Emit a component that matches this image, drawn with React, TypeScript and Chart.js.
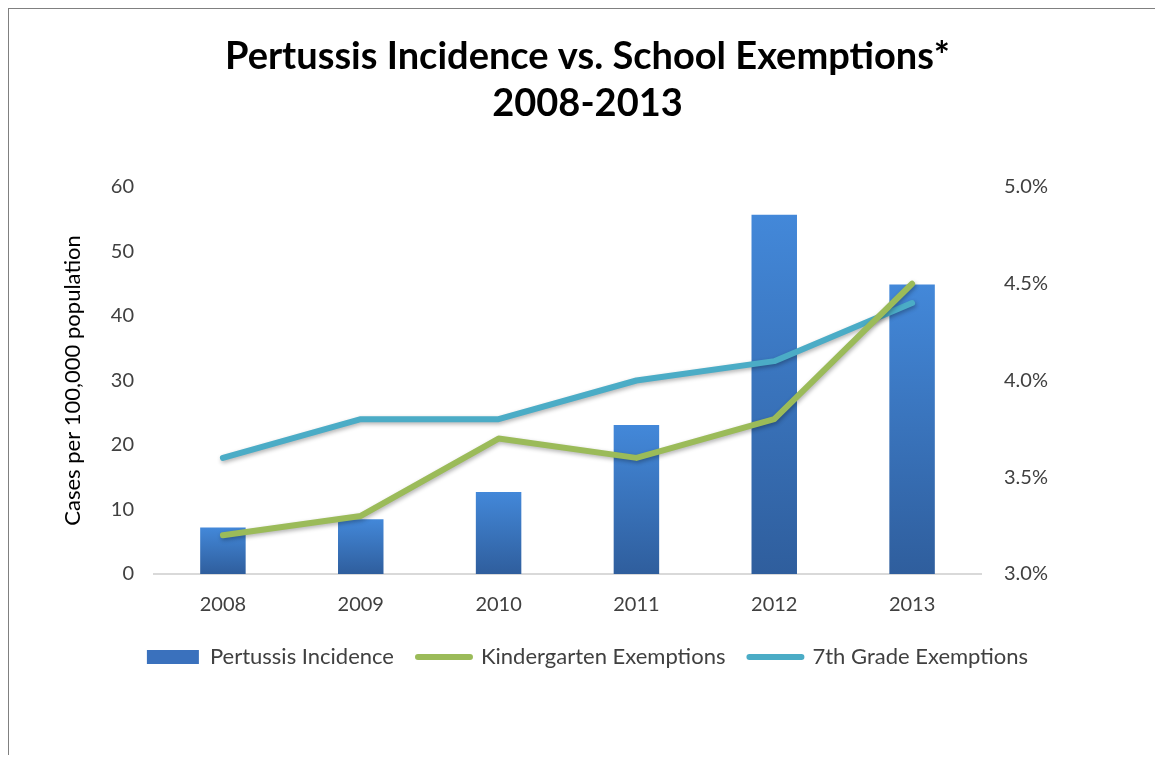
import React, { useEffect, useRef } from 'react';
import { Chart, registerables } from 'chart.js';

Chart.register(...registerables);

const titleLines = ['Pertussis Incidence vs. School Exemptions*', '2008-2013'];
const years = ['2008', '2009', '2010', '2011', '2012', '2013'];
const seriesNames = ['Pertussis Incidence', 'Kindergarten Exemptions', '7th Grade Exemptions'];
const pertussis = [7.2, 8.5, 12.7, 23.1, 55.7, 44.9];
const kindergarten = [3.2, 3.3, 3.7, 3.6, 3.8, 4.5];
const seventhGrade = [3.6, 3.8, 3.8, 4.0, 4.1, 4.4];
const leftAxisTitle = 'Cases per 100,000 population';

const BAR_TOP = '#4388D9';
const BAR_BOTTOM = '#2F5E9D';
const BAR_LEGEND = '#3A71BD';
const GREEN = '#9BBB59';
const CYAN = '#4BACC6';
const TEXT = '#404040';

const shadowPlugin = {
  id: 'lineShadow',
  beforeDatasetDraw(chart: any, args: any) {
    const ds = chart.data.datasets[args.index];
    if (ds.type === 'line') {
      const c = chart.ctx;
      c.save();
      c.shadowColor = 'rgba(0,0,0,0.3)';
      c.shadowBlur = 4;
      c.shadowOffsetX = 1;
      c.shadowOffsetY = 2;
    }
  },
  afterDatasetDraw(chart: any, args: any) {
    const ds = chart.data.datasets[args.index];
    if (ds.type === 'line') chart.ctx.restore();
  },
};

export default function App() {
  const canvasRef = useRef<HTMLCanvasElement | null>(null);

  useEffect(() => {
    if (!canvasRef.current) return;
    Chart.defaults.font.family = 'Lato, "Noto Sans", sans-serif';
    const chart = new Chart(canvasRef.current, {
      type: 'bar',
      data: {
        labels: years,
        datasets: [
          {
            type: 'bar',
            label: seriesNames[0],
            data: pertussis,
            yAxisID: 'y',
            order: 3,
            barPercentage: 0.33,
            categoryPercentage: 1,
            borderWidth: 0,
            backgroundColor: (ctx: any) => {
              const ch = ctx.chart;
              if (!ch.chartArea || ctx.type !== 'data') return BAR_LEGEND;
              const ys = ch.scales.y;
              const top = ys.getPixelForValue(ctx.raw as number);
              const bottom = ys.getPixelForValue(0);
              if (!isFinite(top) || !isFinite(bottom) || top === bottom) return BAR_LEGEND;
              const g = ch.ctx.createLinearGradient(0, top, 0, bottom);
              g.addColorStop(0, BAR_TOP);
              g.addColorStop(1, BAR_BOTTOM);
              return g;
            },
          } as any,
          {
            type: 'line',
            label: seriesNames[1],
            data: kindergarten,
            yAxisID: 'y1',
            order: 1,
            borderColor: GREEN,
            backgroundColor: GREEN,
            borderWidth: 6,
            borderCapStyle: 'round',
            borderJoinStyle: 'round',
            pointRadius: 0,
            tension: 0,
          } as any,
          {
            type: 'line',
            label: seriesNames[2],
            data: seventhGrade,
            yAxisID: 'y1',
            order: 2,
            borderColor: CYAN,
            backgroundColor: CYAN,
            borderWidth: 6,
            borderCapStyle: 'round',
            borderJoinStyle: 'round',
            pointRadius: 0,
            tension: 0,
          } as any,
        ],
      },
      options: {
        animation: false,
        responsive: false,
        maintainAspectRatio: false,
        layout: { padding: { left: 12, right: 0, top: 0, bottom: 77 } },
        plugins: {
          tooltip: { enabled: false },
          title: {
            display: true,
            text: titleLines,
            color: '#000000',
            font: { size: 38, weight: 'bold', lineHeight: 47 / 38 },
            padding: { top: 25.5, bottom: 59.5 },
          },
          legend: {
            display: true,
            position: 'bottom',
            labels: {
              usePointStyle: true,
              pointStyleWidth: 52,
              boxHeight: 14,
              padding: 24,
              color: TEXT,
              font: { size: 22 },
              generateLabels: () => [
                {
                  text: seriesNames[0],
                  fillStyle: BAR_LEGEND,
                  strokeStyle: BAR_LEGEND,
                  lineWidth: 0,
                  pointStyle: 'rect',
                  datasetIndex: 0,
                  hidden: false,
                  fontColor: TEXT,
                } as any,
                {
                  text: seriesNames[1],
                  fillStyle: GREEN,
                  strokeStyle: GREEN,
                  lineWidth: 6,
                  lineCap: 'round',
                  pointStyle: 'line',
                  datasetIndex: 1,
                  hidden: false,
                  fontColor: TEXT,
                } as any,
                {
                  text: seriesNames[2],
                  fillStyle: CYAN,
                  strokeStyle: CYAN,
                  lineWidth: 6,
                  lineCap: 'round',
                  pointStyle: 'line',
                  datasetIndex: 2,
                  hidden: false,
                  fontColor: TEXT,
                } as any,
              ],
            },
          },
        },
        scales: {
          x: {
            type: 'category',
            offset: true,
            grid: { display: false, drawTicks: false },
            border: { display: true, color: '#D9D9D9', width: 2 },
            ticks: { color: TEXT, font: { size: 20 }, padding: 19, maxRotation: 0 },
            afterFit: (s: any) => {
              s.height = 48;
            },
          },
          y: {
            type: 'linear',
            position: 'left',
            min: 0,
            max: 60,
            grid: { display: false, drawTicks: false },
            border: { display: false },
            ticks: { stepSize: 10, color: TEXT, font: { size: 20 }, padding: 20 },
            title: {
              display: true,
              text: leftAxisTitle,
              color: '#000000',
              font: { size: 22 },
              padding: { top: 40, bottom: 0 },
            },
            afterFit: (s: any) => {
              s.width = 134;
            },
          },
          y1: {
            type: 'linear',
            position: 'right',
            min: 3,
            max: 5,
            grid: { display: false, drawTicks: false },
            border: { display: false },
            ticks: {
              stepSize: 0.5,
              color: TEXT,
              font: { size: 20 },
              padding: 23,
              callback: (v: any) => Number(v).toFixed(1) + '%',
            },
            afterFit: (s: any) => {
              s.width = 174;
            },
          },
        },
      },
      plugins: [shadowPlugin],
    });
    return () => chart.destroy();
  }, []);

  return (
    <div style={{ position: 'relative', width: 1147, height: 747 }}>
      <canvas ref={canvasRef} width={1147} height={747} style={{ display: 'block' }} />
      <div
        style={{
          position: 'absolute',
          left: -1,
          top: -1,
          width: 1148,
          height: 748,
          boxSizing: 'border-box',
          borderTop: '2px solid #808080',
          borderLeft: '2px solid #808080',
          pointerEvents: 'none',
        }}
      />
    </div>
  );
}
